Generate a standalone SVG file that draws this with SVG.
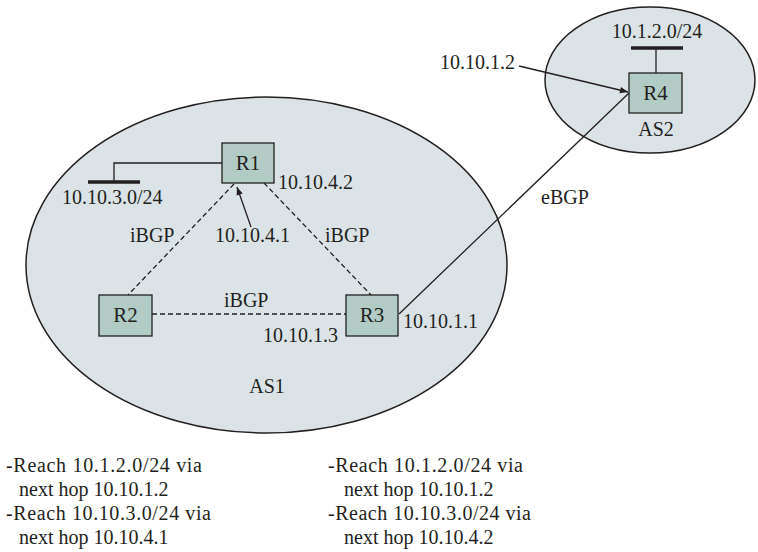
<svg xmlns="http://www.w3.org/2000/svg" width="758" height="552" viewBox="0 0 758 552">
<style>
text{font-family:"Liberation Serif","Times New Roman",serif;font-size:20px;fill:#231f20}
.as{fill:#dce3e6;stroke:#231f20;stroke-width:1.5}
.rt{fill:#b2cbc4;stroke:#231f20;stroke-width:1.3}
.ln{stroke:#231f20;stroke-width:1.3;fill:none}
.ds{stroke:#231f20;stroke-width:1.3;fill:none;stroke-dasharray:5,3}
.bus{stroke:#231f20;stroke-width:3.5}
.mid{text-anchor:middle}
.rl{font-size:21px}
</style>
<defs>
<marker id="ah" viewBox="0 0 10 10" refX="10" refY="5" markerWidth="10" markerHeight="8" markerUnits="userSpaceOnUse" orient="auto">
<path d="M0,1 L10,5 L0,9 Z" fill="#231f20"/>
</marker>
</defs>
<g id="AS1"><ellipse class="as" cx="266.5" cy="265" rx="240.5" ry="168"/><text class="mid" x="267" y="393">AS1</text></g>
<g id="AS2"><ellipse class="as" cx="650" cy="80" rx="105" ry="73"/><text class="mid" x="656" y="136">AS2</text></g>
<g id="connectors">
<path class="ln" d="M222,163 H114 V182"/>
<line class="bus" x1="88" y1="182" x2="140" y2="182"/>
<path class="ln" d="M656,48 V73"/>
<line class="bus" x1="631" y1="48" x2="683" y2="48"/>
<line class="ds" x1="234" y1="184" x2="128" y2="295"/>
<line class="ds" x1="264" y1="183" x2="371" y2="295"/>
<line class="ds" x1="152" y1="314" x2="346" y2="314"/>
<line class="ln" x1="399" y1="314" x2="629" y2="93"/>
<line class="ln" x1="251" y1="227" x2="237" y2="187" marker-end="url(#ah)"/>
<line class="ln" x1="519" y1="66" x2="628" y2="92" marker-end="url(#ah)"/>
</g>
<g id="R1"><rect class="rt" x="222" y="143" width="52" height="40"/><text class="mid rl" x="248" y="170">R1</text></g>
<g id="R2"><rect class="rt" x="99" y="295" width="53" height="41"/><text class="mid rl" x="125.5" y="322">R2</text></g>
<g id="R3"><rect class="rt" x="346" y="295" width="52" height="41"/><text class="mid rl" x="372" y="322">R3</text></g>
<g id="R4"><rect class="rt" x="629" y="73" width="53" height="40"/><text class="mid rl" x="655.5" y="100">R4</text></g>
<g id="labels">
<text class="mid" x="657" y="38">10.1.2.0/24</text>
<text x="440" y="69">10.10.1.2</text>
<text x="62" y="204">10.10.3.0/24</text>
<text x="278" y="189">10.10.4.2</text>
<text x="130" y="242">iBGP</text>
<text x="215" y="242">10.10.4.1</text>
<text x="325" y="242">iBGP</text>
<text x="224" y="307">iBGP</text>
<text x="263" y="342">10.10.1.3</text>
<text x="403" y="328">10.10.1.1</text>
<text x="541" y="204">eBGP</text>
</g>
<g id="notes">
<text x="6" y="472" textLength="196" lengthAdjust="spacing">-Reach 10.1.2.0/24 via</text>
<text x="19" y="496">next hop 10.10.1.2</text>
<text x="6" y="520" textLength="205" lengthAdjust="spacing">-Reach 10.10.3.0/24 via</text>
<text x="19" y="544">next hop 10.10.4.1</text>
<text x="328" y="472" textLength="195" lengthAdjust="spacing">-Reach 10.1.2.0/24 via</text>
<text x="344" y="496">next hop 10.10.1.2</text>
<text x="328" y="520" textLength="203" lengthAdjust="spacing">-Reach 10.10.3.0/24 via</text>
<text x="344" y="544">next hop 10.10.4.2</text>
</g>
</svg>
